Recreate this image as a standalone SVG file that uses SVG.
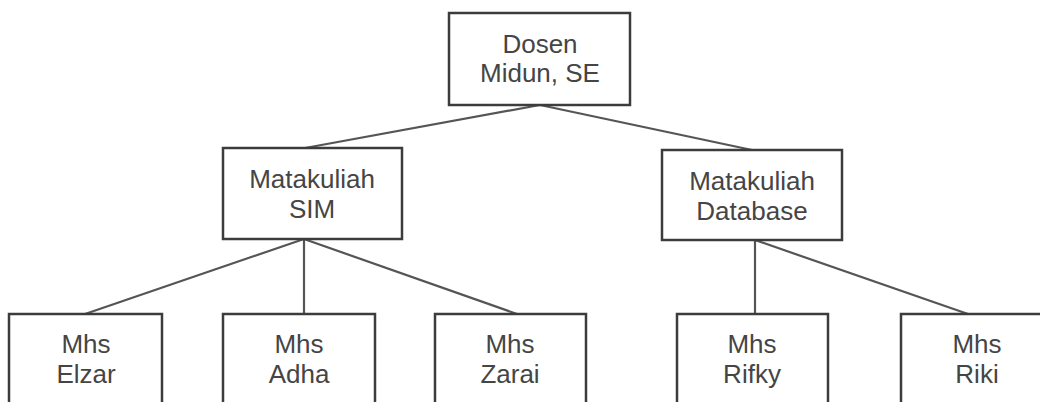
<svg xmlns="http://www.w3.org/2000/svg" width="1040" height="402" viewBox="0 0 1040 402">
  <style>
    .box { fill: #ffffff; stroke: #3c3c3c; stroke-width: 2.5; }
    .lbl { font-family: "Liberation Sans", Arial, sans-serif; font-size: 26px; fill: #454545; text-anchor: middle; }
    .link { stroke: #555555; stroke-width: 2.2; fill: none; }
  </style>
  <rect width="1040" height="402" fill="#ffffff"/>

  <g id="connectors">
    <line class="link" x1="540" y1="105" x2="305" y2="148"/>
    <line class="link" x1="540" y1="105" x2="752" y2="150"/>
    <line class="link" x1="304" y1="239" x2="85" y2="314"/>
    <line class="link" x1="304" y1="239" x2="304" y2="314"/>
    <line class="link" x1="304" y1="239" x2="517" y2="314"/>
    <line class="link" x1="755" y1="240" x2="755" y2="314"/>
    <line class="link" x1="755" y1="240" x2="968" y2="314"/>
  </g>

  <g id="dosen">
    <rect class="box" x="449" y="13" width="181" height="92"/>
    <text class="lbl" x="540" y="53">Dosen</text>
    <text class="lbl" x="540" y="82">Midun, SE</text>
  </g>

  <g id="mk-sim">
    <rect class="box" x="223" y="148" width="179" height="91"/>
    <text class="lbl" x="312" y="188">Matakuliah</text>
    <text class="lbl" x="312" y="218">SIM</text>
  </g>

  <g id="mk-database">
    <rect class="box" x="662" y="150" width="180" height="90"/>
    <text class="lbl" x="752" y="190">Matakuliah</text>
    <text class="lbl" x="752" y="220">Database</text>
  </g>

  <g id="mhs-elzar">
    <rect class="box" x="9" y="314" width="153" height="110"/>
    <text class="lbl" x="86" y="353">Mhs</text>
    <text class="lbl" x="86" y="383">Elzar</text>
  </g>

  <g id="mhs-adha">
    <rect class="box" x="223" y="314" width="152" height="110"/>
    <text class="lbl" x="299" y="353">Mhs</text>
    <text class="lbl" x="299" y="383">Adha</text>
  </g>

  <g id="mhs-zarai">
    <rect class="box" x="435" y="314" width="151" height="110"/>
    <text class="lbl" x="510" y="353">Mhs</text>
    <text class="lbl" x="510" y="383">Zarai</text>
  </g>

  <g id="mhs-rifky">
    <rect class="box" x="677" y="314" width="151" height="110"/>
    <text class="lbl" x="752" y="353">Mhs</text>
    <text class="lbl" x="752" y="383">Rifky</text>
  </g>

  <g id="mhs-riki">
    <rect class="box" x="901" y="314" width="152" height="110"/>
    <text class="lbl" x="977" y="353">Mhs</text>
    <text class="lbl" x="977" y="383">Riki</text>
  </g>
</svg>
